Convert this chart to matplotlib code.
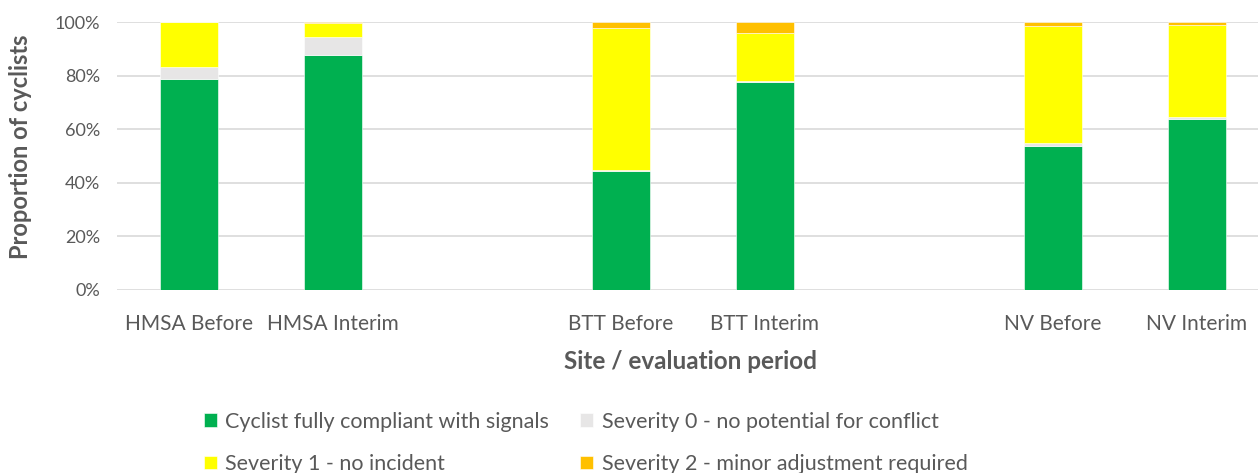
import matplotlib
matplotlib.use("Agg")
import matplotlib.pyplot as plt
import numpy as np

categories = ["HMSA Before", "HMSA Interim", "", "BTT Before", "BTT Interim", "", "NV Before", "NV Interim"]
compliant = [78.6, 87.7, 0, 44.4, 77.6, 0, 53.7, 63.8]
severity0 = [4.6, 6.6, 0, 0.4, 0.2, 0, 1.0, 0.6]
severity1 = [16.8, 5.4, 0, 52.8, 18.0, 0, 43.9, 34.6]
severity2 = [0.0, 0.3, 0, 2.4, 4.2, 0, 1.4, 1.0]

series_names = ["Cyclist fully compliant with signals", "Severity 0 - no potential for conflict",
                "Severity 1 - no incident", "Severity 2 - minor adjustment required"]
colors = ["#00B050", "#E7E6E6", "#FFFF00", "#FFC000"]

plt.rcParams['font.family'] = ['Lato', 'DejaVu Sans']

fig = plt.figure(figsize=(12.58, 4.73), dpi=100)
ax = fig.add_axes([117/1258, (473-290)/473, 1152/1258, 268/473])

x = np.arange(len(categories))
bottom = np.zeros(len(categories))
handles = []
for vals, name, c in zip([compliant, severity0, severity1, severity2], series_names, colors):
    v = np.array(vals) / 100.0
    b = ax.bar(x, v, width=0.4, bottom=bottom, color=c, label=name, edgecolor="white", linewidth=0.4, zorder=3)
    handles.append(b)
    bottom += v

ax.set_xlim(-0.5, len(categories) - 0.5)
ax.set_ylim(0, 1.0)
ax.set_yticks(np.arange(0, 1.01, 0.2))
ax.set_yticklabels([f"{int(round(t*100))}%" for t in np.arange(0, 1.01, 0.2)])
ax.set_xticks(x)
ax.set_xticklabels(categories)
ax.grid(axis="y", color="#D9D9D9", linewidth=1.2, zorder=0)
for s in ax.spines.values():
    s.set_visible(False)
ax.tick_params(axis="y", length=0, labelsize=13, colors="#595959", pad=12)
ax.tick_params(axis="x", length=0, labelsize=15, colors="#595959", pad=17)

ax.set_xlabel("Site / evaluation period", fontsize=17.5, fontweight="bold", color="#595959")
ax.set_ylabel("Proportion of cyclists", fontsize=17, fontweight="bold", color="#595959")
ax.xaxis.set_label_coords((690-117)/1152, -(350-290)/268)
ax.yaxis.set_label_coords(-(117-32)/1152, (290-147)/268)

order = [0, 2, 1, 3]
leg = fig.legend(handles=[handles[i] for i in order], labels=[series_names[i] for i in order],
                 loc="upper left", bbox_to_anchor=(195/1258, (473-403)/473),
                 ncol=2, frameon=False, fontsize=15.5, handlelength=0.6, handleheight=0.6, handletextpad=0.4,
                 columnspacing=1.45, labelspacing=1.05, labelcolor="#595959", borderaxespad=0)

fig.savefig("out.png", dpi=100)
